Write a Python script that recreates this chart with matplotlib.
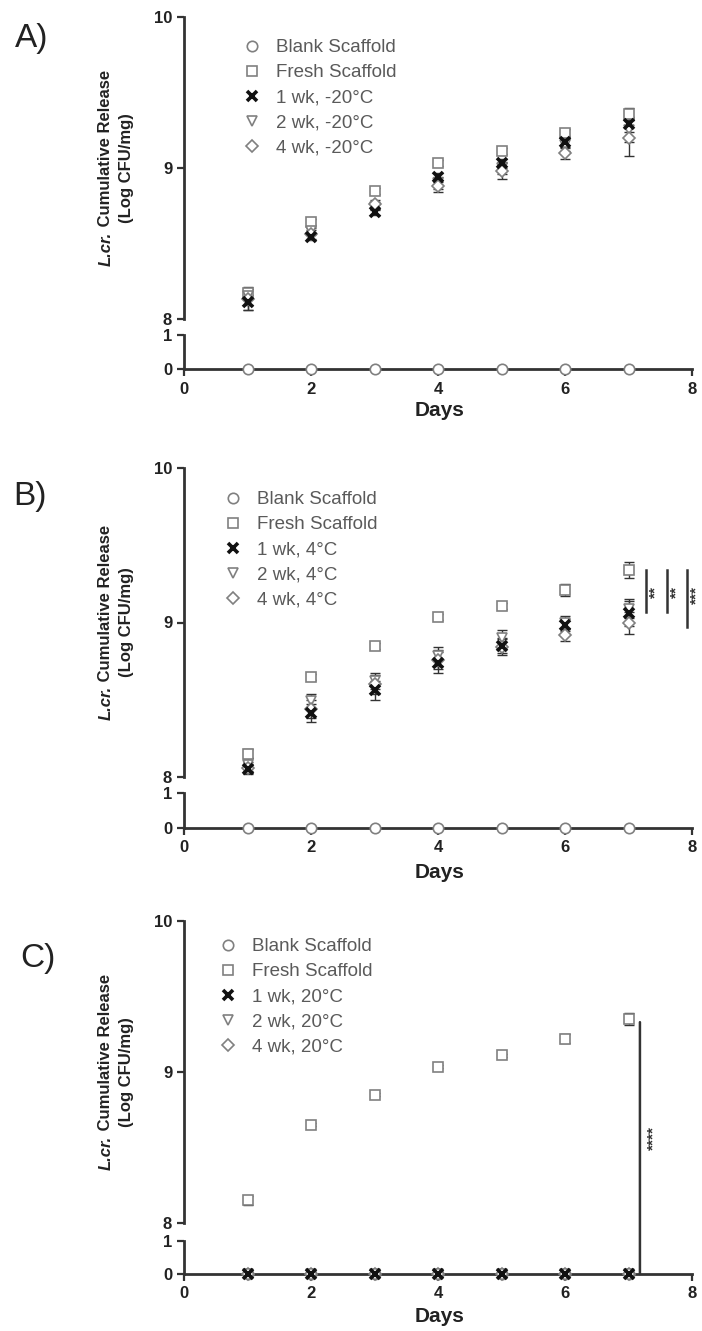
import numpy as np
import matplotlib
matplotlib.use("Agg")
import matplotlib.pyplot as plt
from matplotlib.patches import ConnectionPatch

plt.rcParams['font.family'] = ['Liberation Sans', 'DejaVu Sans']

days = [1, 2, 3, 4, 5, 6, 7]
blank = [0, 0, 0, 0, 0, 0, 0]

# Panel A (-20 C)
a_fresh = [8.17, 8.64, 8.85, 9.03, 9.11, 9.23, 9.36]
a_fresh_err = [0.03, 0.02, 0.02, 0.02, 0.02, 0.03, 0.04]
a_1wk = [8.11, 8.54, 8.71, 8.94, 9.03, 9.17, 9.29]
a_1wk_err = [0.05, 0.02, 0.02, 0.03, 0.03, 0.04, 0.05]
a_2wk = [8.15, 8.58, 8.74, 8.90, 9.00, 9.15, 9.25]
a_2wk_err = [0.06, 0.02, 0.02, 0.04, 0.04, 0.04, 0.08]
a_4wk = [8.13, 8.56, 8.76, 8.88, 8.98, 9.10, 9.20]
a_4wk_err = [0.07, 0.03, 0.03, 0.04, 0.05, 0.04, 0.12]

# Panel B (4 C)
b_fresh = [8.15, 8.645, 8.85, 9.035, 9.105, 9.21, 9.34]
b_fresh_err = [0.03, 0.02, 0.02, 0.02, 0.02, 0.04, 0.05]
b_1wk = [8.055, 8.415, 8.56, 8.74, 8.85, 8.985, 9.06]
b_1wk_err = [0.03, 0.06, 0.06, 0.07, 0.05, 0.04, 0.08]
b_2wk = [8.08, 8.49, 8.62, 8.78, 8.90, 9.00, 9.09]
b_2wk_err = [0.04, 0.05, 0.05, 0.06, 0.05, 0.04, 0.06]
b_4wk = [8.06, 8.44, 8.60, 8.76, 8.84, 8.92, 8.995]
b_4wk_err = [0.04, 0.06, 0.06, 0.06, 0.05, 0.04, 0.07]

# Panel C (20 C)
c_fresh = [8.15, 8.65, 8.85, 9.035, 9.11, 9.22, 9.35]
c_fresh_err = [0.03, 0.01, 0.01, 0.01, 0.01, 0.03, 0.04]
c_1wk = [0, 0, 0, 0, 0, 0, 0]
c_2wk = [0, 0, 0, 0, 0, 0, 0]
c_4wk = [0, 0, 0, 0, 0, 0, 0]

legend_a = ["Blank Scaffold", "Fresh Scaffold", "1 wk, -20°C", "2 wk, -20°C", "4 wk, -20°C"]
legend_b = ["Blank Scaffold", "Fresh Scaffold", "1 wk, 4°C", "2 wk, 4°C", "4 wk, 4°C"]
legend_c = ["Blank Scaffold", "Fresh Scaffold", "1 wk, 20°C", "2 wk, 20°C", "4 wk, 20°C"]
panel_labels = ["A)", "B)", "C)"]

W, H = 702, 1331
fig = plt.figure(figsize=(W / 100, H / 100), dpi=100)

def fx(px):
    return px / W

def fy(py):
    return 1 - py / H

GRAY = '#808080'
BLACK = '#111111'
styles = [
    dict(marker='o', mfc='white', mec=GRAY, ms=7.5, mew=1.2),
    dict(marker='s', mfc='white', mec=GRAY, ms=7.5, mew=1.2),
    dict(marker='x', mfc='none', mec=BLACK, ms=7.5, mew=2.6),
    dict(marker='v', mfc='white', mec=GRAY, ms=7.5, mew=1.2),
    dict(marker='D', mfc='white', mec=GRAY, ms=6, mew=1.2),
]

x_left, x_w = 184, 508
panels = [
    # (upper_top, upper_bottom, lower_top, lower_bottom) in pixels
    (17, 319, 335, 369),
    (468, 777, 793, 828),
    (921, 1223, 1241, 1274),
]

def make_axes(geom):
    ut, ub, lt, lb = geom
    axu = fig.add_axes([fx(x_left), fy(ub), fx(x_w), (ub - ut) / H])
    axl = fig.add_axes([fx(x_left), fy(lb), fx(x_w), (lb - lt) / H])
    for ax in (axu, axl):
        ax.set_facecolor('none')
        ax.set_xlim(0, 8)
        for s in ('top', 'right'):
            ax.spines[s].set_visible(False)
        ax.spines['left'].set_linewidth(2)
        ax.spines['left'].set_color('#333333')
        ax.spines['bottom'].set_linewidth(2)
        ax.spines['bottom'].set_color('#333333')
        ax.tick_params(width=1.6, length=5, labelsize=12, colors='#333333',
                       labelcolor='#222222')
    ax.tick_params(axis='x', pad=4)
    axu.set_ylim(8, 10)
    axu.set_yticks([8, 9, 10])
    axu.spines['bottom'].set_visible(False)
    axu.set_xticks([])
    axl.set_ylim(0, 1)
    axl.set_yticks([0, 1])
    axl.set_xticks([0, 2, 4, 6, 8])
    for lab in axu.get_yticklabels() + axl.get_yticklabels() + axl.get_xticklabels():
        lab.set_fontweight('bold')
    return axu, axl

def plot_series(axu, axl, yvals, errs, st, label):
    y = np.array(yvals, dtype=float)
    ax = axu if y.max() > 5 else axl
    if errs is not None:
        ax.errorbar(days, y, yerr=errs, fmt='none', ecolor='#333333', elinewidth=1.0,
                    capsize=3.5, capthick=1.0, clip_on=False, zorder=3)
    ax.plot(days, y, linestyle='none', marker=st['marker'], mfc=st['mfc'],
            mec=st['mec'], ms=st['ms'], mew=st['mew'], clip_on=False, zorder=4)
    h, = axu.plot([], [], linestyle='none', marker=st['marker'], mfc=st['mfc'],
                  mec=st['mec'], ms=st['ms'], mew=st['mew'], label=label)
    return h

data_sets = [
    ([blank, a_fresh, a_1wk, a_2wk, a_4wk], [None, a_fresh_err, a_1wk_err, a_2wk_err, a_4wk_err], legend_a),
    ([blank, b_fresh, b_1wk, b_2wk, b_4wk], [None, b_fresh_err, b_1wk_err, b_2wk_err, b_4wk_err], legend_b),
    ([blank, c_fresh, c_1wk, c_2wk, c_4wk], [None, c_fresh_err, None, None, None], legend_c),
]

legend_pos = [(243, 39), (224, 491), (219, 938)]
label_pos = [(32, 38), (30, 497), (38, 958)]
days_y = [410, 873, 1316]

axes_all = []
for i, geom in enumerate(panels):
    axu, axl = make_axes(geom)
    axes_all.append((axu, axl))
    series, errs, labels = data_sets[i]
    handles = [None] * 5
    for k in [0, 1, 3, 4, 2]:
        handles[k] = plot_series(axu, axl, series[k], errs[k], styles[k], labels[k])
    lx, ly = legend_pos[i]
    leg = axu.legend(handles=handles, labels=labels, loc='upper left',
                     bbox_to_anchor=(fx(lx), fy(ly)), bbox_transform=fig.transFigure,
                     frameon=False, fontsize=13.5, labelspacing=0.42,
                     handletextpad=0.75, handlelength=1.0, borderpad=0, borderaxespad=0)
    for t in leg.get_texts():
        t.set_color('#5a5a5a')
    fig.text(fx(label_pos[i][0]), fy(label_pos[i][1]), panel_labels[i],
             fontsize=24, ha='center', va='center', color='#222222')
    fig.text(fx(440), fy(days_y[i]), "Days", fontsize=15, fontweight='bold',
             ha='center', va='center', color='#222222')

# significance annotations, panel B
axu_b = axes_all[1][0]
sig_x_b = [7.28, 7.61, 7.92]
sig_lo_b = [9.065, 9.065, 8.97]
sig_hi_b = [9.34, 9.34, 9.34]
sig_txt_b = ["**", "**", "***"]
sig_txt_y_b = [9.20, 9.20, 9.18]
for xv, lo, hi, txt, ty in zip(sig_x_b, sig_lo_b, sig_hi_b, sig_txt_b, sig_txt_y_b):
    axu_b.plot([xv, xv], [lo, hi], color='#333333', lw=1.8, clip_on=False)
    axu_b.text(xv + 0.15, ty, txt, rotation=90, ha='center', va='center',
               fontsize=11, fontweight='bold', color='#333333', clip_on=False)

# significance annotation, panel C
axu_c, axl_c = axes_all[2]
sig_x_c = 7.18
sig_hi_c = 9.33
con = ConnectionPatch(xyA=(sig_x_c, sig_hi_c), coordsA=axu_c.transData,
                      xyB=(sig_x_c, 0), coordsB=axl_c.transData,
                      color='#333333', lw=1.8)
fig.add_artist(con)
axu_c.text(sig_x_c + 0.22, 8.56, "****", rotation=90, ha='center', va='center',
           fontsize=11, fontweight='bold', color='#333333', clip_on=False)

# y labels with mixed styles
fig.canvas.draw()
renderer = fig.canvas.get_renderer()
for i, geom in enumerate(panels):
    ut, ub, lt, lb = geom
    cy = (ut + ub) / 2
    p1 = fig.text(0, 0, "L.cr.", rotation=90, fontsize=12, fontweight='bold',
                  fontstyle='italic')
    p2 = fig.text(0, 0, " Cumulative Release", rotation=90, fontsize=12,
                  fontweight='bold')
    h1 = p1.get_window_extent(renderer).height
    h2 = p2.get_window_extent(renderer).height
    total = h1 + h2
    y0 = (H - cy) - total / 2
    xline1 = fx(106)
    p1.set_position((xline1, y0 / H))
    p1.set_ha('center'); p1.set_va('bottom')
    p2.set_position((xline1, (y0 + h1) / H))
    p2.set_ha('center'); p2.set_va('bottom')
    for p in (p1, p2):
        p.set_color('#222222')
    fig.text(fx(126), fy(cy), "(Log CFU/mg)", rotation=90, fontsize=12,
             fontweight='bold', ha='center', va='center', color='#222222')

fig.savefig("out.png", dpi=100)
